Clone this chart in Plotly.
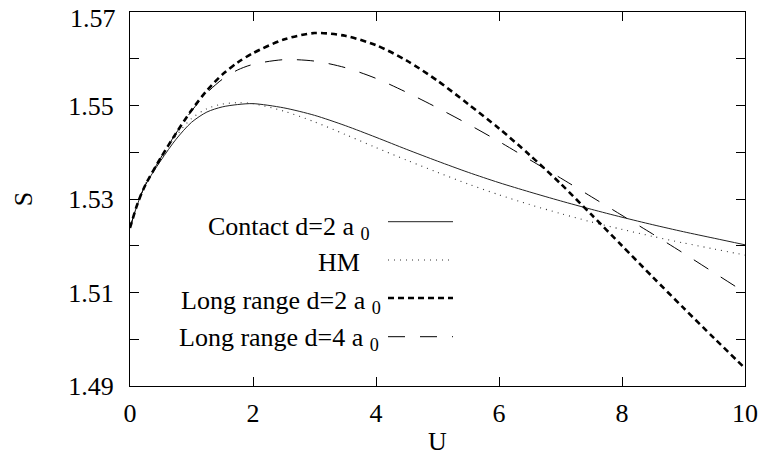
import plotly.graph_objects as go

# ---- data ----
U = [0, 0.125, 0.25, 0.5, 0.75, 1.0, 1.25, 1.5, 1.75, 2.0, 2.5, 3.0, 3.5, 4.0, 4.5,
     5.0, 5.5, 6.0, 6.5, 7.0, 7.5, 8.0, 8.5, 9.0, 9.5, 10.0]

contact_d2 = [1.5238, 1.5290, 1.5330, 1.5382, 1.5428, 1.5464, 1.5486, 1.5497, 1.5502, 1.5504,
              1.5495, 1.5479, 1.5457, 1.5432, 1.5406, 1.5381, 1.5357, 1.5335, 1.5315, 1.5296,
              1.5278, 1.5261, 1.5245, 1.5230, 1.5216, 1.5202]

hm = [1.5238, 1.5291, 1.5332, 1.5388, 1.5435, 1.5472, 1.5493, 1.5503, 1.5506, 1.5504,
      1.5488, 1.5465, 1.5438, 1.5410, 1.5383, 1.5357, 1.5332, 1.5309, 1.5288, 1.5269,
      1.5251, 1.5235, 1.5220, 1.5206, 1.5193, 1.5180]

long_d2 = [1.5238, 1.5291, 1.5330, 1.5388, 1.5441, 1.5490, 1.5532, 1.5566, 1.5592, 1.5612,
           1.5641, 1.5655, 1.5649, 1.5629, 1.5596, 1.5553, 1.5503, 1.5451, 1.5394, 1.5333,
           1.5267, 1.5200, 1.5133, 1.5067, 1.5002, 1.4938]

long_d4 = [1.5238, 1.5291, 1.5330, 1.5388, 1.5441, 1.5488, 1.5527, 1.5556, 1.5576, 1.5588,
           1.5598, 1.5595, 1.5581, 1.5558, 1.5528, 1.5495, 1.5460, 1.5423, 1.5384, 1.5345,
           1.5305, 1.5265, 1.5225, 1.5184, 1.5142, 1.5100]

labels = ["Contact d=2 a <sub>0</sub>", "HM", "Long range d=2 a <sub>0</sub>",
          "Long range d=4 a <sub>0</sub>"]

x_ticks = [0, 2, 4, 6, 8, 10]
y_ticks = [1.49, 1.50, 1.51, 1.52, 1.53, 1.54, 1.55, 1.56, 1.57]
y_ticktext = ["1.49", "", "1.51", "", "1.53", "", "1.55", "", ""]
y_top_label = "1.57"   # drawn as an annotation so it is not clipped at the page top

# ---- styles ----
FONT = "Liberation Serif, Times New Roman, serif"
styles = [
    dict(color="#222", width=1, dash="solid"),
    dict(color="#333", width=1.1, dash="1px,5px"),
    dict(color="black", width=2.6, dash="6px,4px"),
    dict(color="black", width=1, dash="17px,15px"),
]
series = [contact_d2, hm, long_d2, long_d4]

fig = go.Figure()
for ys, st in zip(series, styles):
    fig.add_trace(go.Scatter(x=U, y=ys, mode="lines",
                             line=dict(shape="spline", smoothing=0.8, **st),
                             showlegend=False, hoverinfo="skip"))

# ---- legend drawn gnuplot-style: text right-aligned, sample on the right ----
W, H, L, T = 615.0, 374.0, 130.0, 12.0
def px(x):
    return (x - L) / W
def py(y):
    return (T + H - y) / H

text_right = [372, 362, 383, 381]
text_y = [228, 262, 302, 339]
sample_y = [221.7, 260.0, 298.0, 336.7]
for lab, xr, ty, sy, st in zip(labels, text_right, text_y, sample_y, styles):
    fig.add_annotation(x=px(xr), y=py(ty), xref="paper", yref="paper", text=lab,
                       showarrow=False, xanchor="right", yanchor="middle",
                       font=dict(family=FONT, size=26, color="black"))
    fig.add_shape(type="line", xref="paper", yref="paper", x0=px(388), x1=px(453),
                  y0=py(sy), y1=py(sy), line=st)

fig.add_annotation(x=px(118), y=py(2), xref="paper", yref="paper", text=y_top_label,
                   showarrow=False, xanchor="right", yanchor="top",
                   font=dict(family=FONT, size=26, color="black"))

fig.update_layout(
    width=765, height=461,
    margin=dict(l=130, r=20, t=12, b=75),
    paper_bgcolor="white", plot_bgcolor="white",
    font=dict(family=FONT, size=26, color="black"),
)
fig.update_xaxes(range=[0, 10], tickvals=x_ticks, ticks="inside", ticklen=9, tickwidth=1,
                 tickcolor="black", showline=True, linecolor="black", linewidth=1.3,
                 mirror="ticks", showgrid=False, zeroline=False, ticklabelstandoff=4,
                 automargin=False,
                 title=dict(text="U", standoff=4, font=dict(family=FONT, size=26)))
fig.update_yaxes(range=[1.49, 1.57], tickvals=y_ticks, ticktext=y_ticktext, ticks="inside",
                 ticklen=9, tickwidth=1, tickcolor="black", showline=True, linecolor="black",
                 linewidth=1.3, mirror="ticks", showgrid=False, zeroline=False,
                 ticklabelstandoff=10, automargin=False,
                 title=dict(text="S", standoff=28, font=dict(family=FONT, size=26)))

fig.write_html("out.html")
